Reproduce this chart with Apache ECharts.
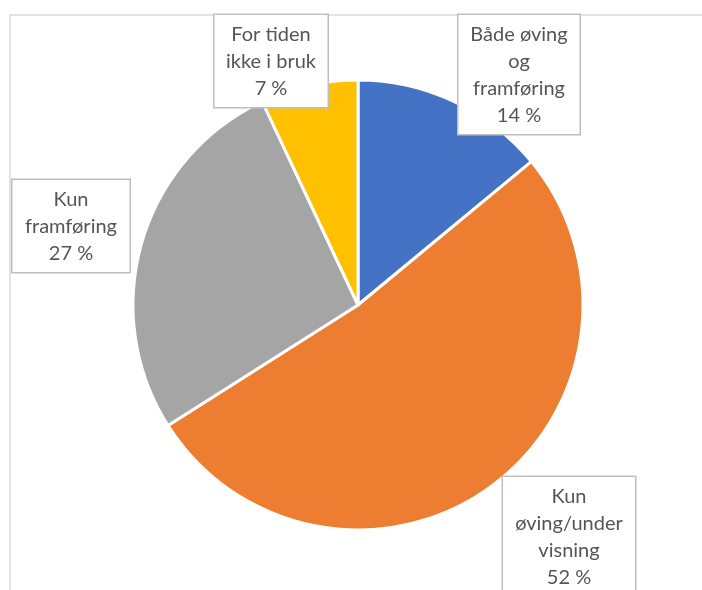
<!DOCTYPE html>
<html>
<head>
<meta charset="utf-8">
<script src="https://cdn.jsdelivr.net/npm/echarts@6/dist/echarts.min.js"></script>
<style>
  html, body { margin: 0; padding: 0; background: #fff; }
  #chart { width: 702px; height: 590px; }
</style>
</head>
<body>
<div id="chart"></div>
<script>
// data, clockwise from 12 o'clock
const categories = ["Både øving\nog\nframføring", "Kun\nøving/under\nvisning", "Kun\nframføring", "For tiden\nikke i bruk"];
const shares = [14, 52, 27, 7];
const colors = ["#4472C4", "#ED7D31", "#A5A5A5", "#FFC000"];

// callout boxes: [centre x, top y, width]
const boxes = [
  [519, 15, 113],
  [569, 477, 124],
  [71, 180, 109],
  [271, 15, 105],
];

const chart = echarts.init(document.getElementById("chart"), null, { renderer: "canvas" });

chart.setOption({
  animation: false,
  backgroundColor: "#fff",
  graphic: [{
    type: "rect",
    shape: { x: 10, y: 15, width: 800, height: 700 },
    style: { fill: "none", stroke: "#d9d9d9", lineWidth: 1.5 },
    silent: true,
  }],
  series: [{
    type: "pie",
    center: [358, 305],
    radius: 225,
    startAngle: 90,
    clockwise: true,
    percentPrecision: 0,
    itemStyle: { borderColor: "#fff", borderWidth: 3 },
    label: {
      show: true,
      formatter: "{b}\n{d} %",
      fontFamily: "Lato",
      fontSize: 20,
      lineHeight: 27,
      color: "#555",
      align: "center",
      backgroundColor: "#fff",
      borderColor: "#bfbfbf",
      borderWidth: 1.5,
      padding: [6, 4, 5, 4],
    },
    labelLine: { show: false },
    labelLayout: (params) => {
      const b = boxes[params.dataIndex];
      return { x: b[0], y: b[1], align: "center", verticalAlign: "top" };
    },
    data: categories.map((name, i) => ({
      name,
      value: shares[i],
      itemStyle: { color: colors[i] },
      label: { width: boxes[i][2] },
    })),
  }],
});
</script>
</body>
</html>
